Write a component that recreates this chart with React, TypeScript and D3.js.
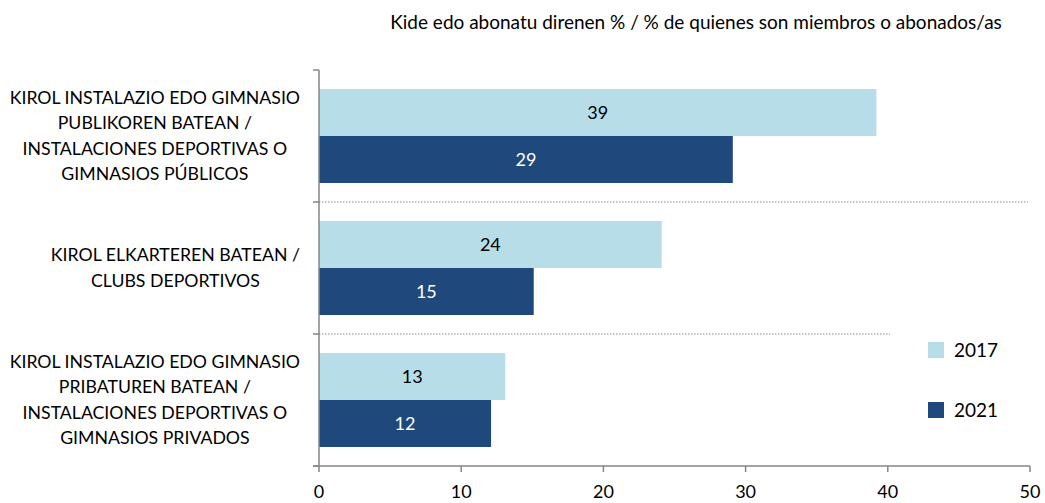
import React, { useRef, useEffect } from 'react';
import * as d3 from 'd3';

const categories = [
  ['KIROL INSTALAZIO EDO GIMNASIO', 'PUBLIKOREN BATEAN /', 'INSTALACIONES DEPORTIVAS O', 'GIMNASIOS PÚBLICOS'],
  ['KIROL ELKARTEREN BATEAN /', 'CLUBS DEPORTIVOS'],
  ['KIROL INSTALAZIO EDO GIMNASIO', 'PRIBATUREN BATEAN /', 'INSTALACIONES DEPORTIVAS O', 'GIMNASIOS PRIVADOS'],
];
const years = ['2017', '2021'];
const values2017 = [39.2, 24.1, 13.1];
const values2021 = [29.1, 15.1, 12.1];
const labels2017 = ['39', '24', '13'];
const labels2021 = ['29', '15', '12'];
const xTicks = [0, 10, 20, 30, 40, 50];
const title = 'Kide edo abonatu direnen % / % de quienes son miembros o abonados/as';

const colors = { '2017': '#B7DDE8', '2021': '#1F497D' };
const FONT = 'Lato, "Open Sans", sans-serif';

function App() {
  const svgRef = useRef(null);

  useEffect(() => {
    const svg = d3.select(svgRef.current);
    svg.selectAll('*').remove();

    const width = 1045;
    const height = 503;
    const left = 319;
    const right = 1030;
    const top = 70;
    const bottom = 466;

    svg.attr('width', width).attr('height', height)
      .style('font-family', FONT);

    const x = d3.scaleLinear().domain([0, 50]).range([left, right]);
    const keys = categories.map((c, i) => String(i));
    const y = d3.scaleBand().domain(keys).range([top, bottom])
      .paddingInner(0.288).paddingOuter(0.144);
    const ySub = d3.scaleBand().domain(years).range([0, y.bandwidth()]);
    const step = y.step();

    // title
    svg.append('text')
      .attr('x', 696).attr('y', 22)
      .attr('dy', '0.35em')
      .attr('text-anchor', 'middle')
      .style('font-size', '19px')
      .attr('fill', '#000')
      .text(title);

    // separators
    const seps = [1, 2];
    const sepEnds = [1028, 890];
    seps.forEach((s, i) => {
      svg.append('line')
        .attr('x1', left).attr('x2', sepEnds[i])
        .attr('y1', top + s * step).attr('y2', top + s * step)
        .attr('stroke', '#8c8c8c')
        .attr('stroke-width', 1)
        .attr('stroke-dasharray', '1.5,1.5');
    });

    // bars
    const rows = categories.map((c, i) => ({
      key: String(i),
      lines: c,
      vals: [
        { year: '2017', v: values2017[i], label: labels2017[i] },
        { year: '2021', v: values2021[i], label: labels2021[i] },
      ],
    }));

    const g = svg.append('g');
    rows.forEach(r => {
      r.vals.forEach(d => {
        const yy = y(r.key) + ySub(d.year);
        g.append('rect')
          .attr('x', x(0)).attr('y', yy)
          .attr('width', x(d.v) - x(0))
          .attr('height', ySub.bandwidth())
          .attr('fill', colors[d.year]);
        g.append('text')
          .attr('x', (x(0) + x(d.v)) / 2)
          .attr('y', yy + ySub.bandwidth() / 2)
          .attr('dy', '0.35em')
          .attr('text-anchor', 'middle')
          .style('font-size', '18px')
          .attr('fill', d.year === '2017' ? '#000' : '#fff')
          .text(d.label);
      });
    });

    // category labels, centred inside a block right-aligned to the axis
    rows.forEach(r => {
      const cy = y(r.key) + y.bandwidth() / 2;
      const lineH = 25.5;
      const block = svg.append('g');
      const texts = r.lines.map((ln, j) =>
        block.append('text')
          .attr('y', cy + (j - (r.lines.length - 1) / 2) * lineH)
          .attr('dy', '0.35em')
          .attr('text-anchor', 'middle')
          .style('font-size', '17.7px')
          .attr('fill', '#000')
          .text(ln)
      );
      const maxW = d3.max(texts, t => t.node().getComputedTextLength());
      texts.forEach(t => t.attr('x', 300 - maxW / 2));
    });

    // axes
    const axisColor = '#868686';
    svg.append('line')
      .attr('x1', left).attr('x2', left)
      .attr('y1', top).attr('y2', bottom)
      .attr('stroke', axisColor).attr('stroke-width', 1.5);
    [0, 1, 2, 3].forEach(i => {
      svg.append('line')
        .attr('x1', left - 6).attr('x2', left)
        .attr('y1', top + i * step).attr('y2', top + i * step)
        .attr('stroke', axisColor).attr('stroke-width', 1.5);
    });

    svg.append('line')
      .attr('x1', left - 6).attr('x2', right)
      .attr('y1', bottom).attr('y2', bottom)
      .attr('stroke', axisColor).attr('stroke-width', 1.5);

    const xg = svg.append('g');
    xTicks.forEach(t => {
      xg.append('line')
        .attr('x1', x(t)).attr('x2', x(t))
        .attr('y1', bottom).attr('y2', bottom + 6)
        .attr('stroke', axisColor).attr('stroke-width', 1.5);
      xg.append('text')
        .attr('x', x(t)).attr('y', bottom + 26)
        .attr('dy', '0.35em')
        .attr('text-anchor', 'middle')
        .style('font-size', '18px')
        .attr('fill', '#000')
        .text(t);
    });

    // legend
    const legendY = [350, 410];
    years.forEach((yr, i) => {
      svg.append('rect')
        .attr('x', 928).attr('y', legendY[i] - 8)
        .attr('width', 16).attr('height', 16)
        .attr('fill', colors[yr]);
      svg.append('text')
        .attr('x', 954).attr('y', legendY[i])
        .attr('dy', '0.35em')
        .style('font-size', '19px')
        .attr('fill', '#000')
        .text(yr);
    });
  }, []);

  return (
    <svg ref={svgRef} style={{ position: 'absolute', left: 0, top: 0, display: 'block' }}></svg>
  );
}

export default App;
